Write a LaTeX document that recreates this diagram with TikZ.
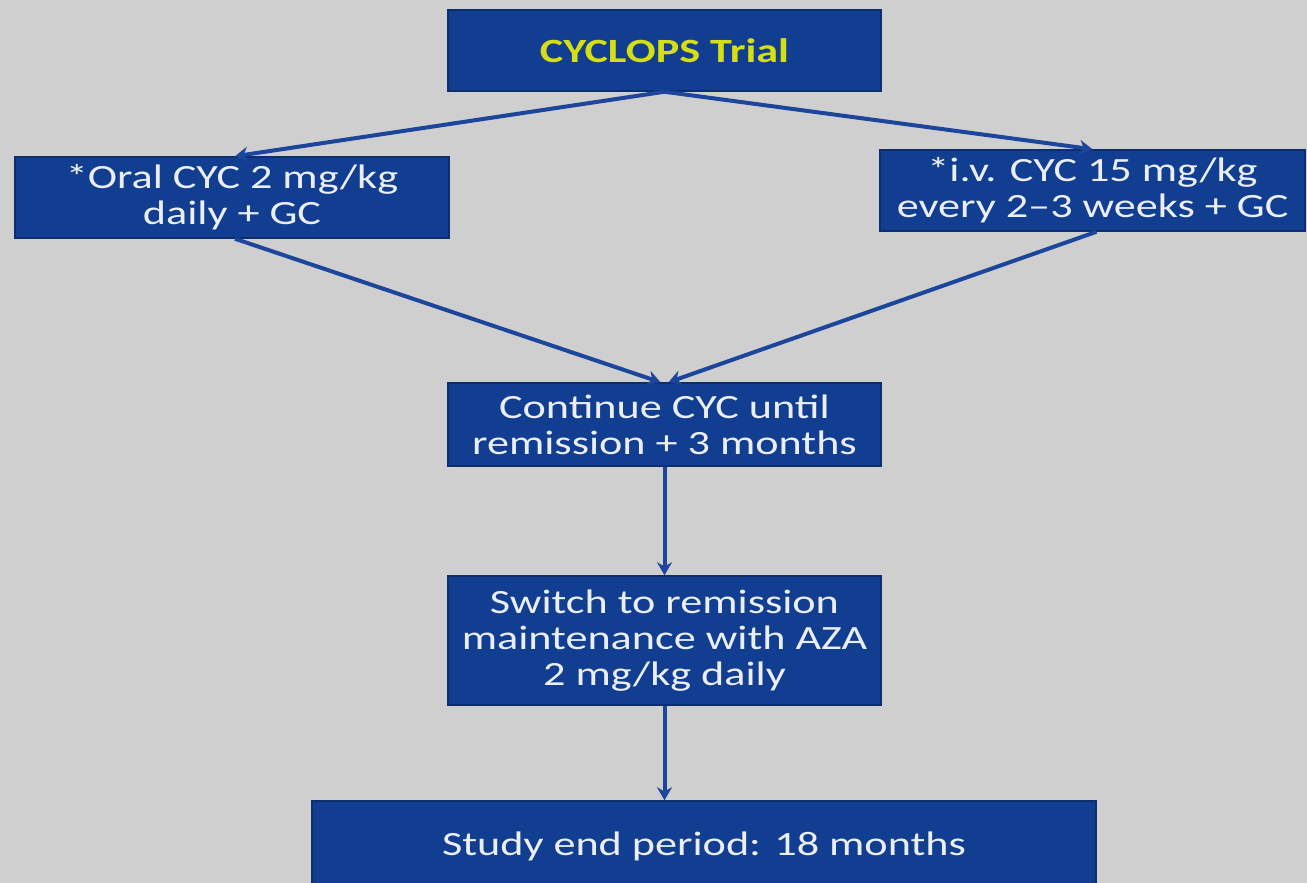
\documentclass[tikz,border=0pt]{standalone}
\usepackage{fontspec}
\setmainfont{Carlito}[FakeStretch=1.3]
\usepackage{tikz}
\usetikzlibrary{arrows.meta, positioning}
\definecolor{bggray}{RGB}{207,207,207}
\definecolor{boxblue}{RGB}{18,62,145}
\definecolor{boxedge}{RGB}{12,45,110}
\definecolor{arrblue}{RGB}{28,70,155}
\definecolor{boxtext}{RGB}{236,238,246}
\definecolor{titleyellow}{RGB}{214,222,20}
\tikzset{
  box/.style = {rectangle, draw=boxedge, fill=boxblue, line width=1.5pt, minimum width=433pt, minimum height=81pt, align=center, text=boxtext, font=\fontsize{34}{36}\selectfont, inner sep=4pt},
  arr/.style = {-{Stealth[length=13pt, width=15pt]}, draw=arrblue, line width=4pt}
}
\begin{document}
\begin{tikzpicture}[x=1pt, y=-1pt]

% background and frame
\fill[bggray] (0,0) rectangle (1307,883);
\useasboundingbox (0,0) rectangle (1307,883);

% Row 1
\node[box, text=titleyellow, font=\fontsize{34}{36}\selectfont\bfseries] (trial) at (664.5,50.5) {CYCLOPS Trial};

% Row 2 (two arms)
\node[box, minimum width=434pt] (oral) at (232,197.5) {*Oral CYC 2 mg/kg\\daily + GC};
\node[box, minimum width=425pt] (iv) at (1092.5,190.5) {*i.v. CYC 15 mg/kg\\every 2--3 weeks + GC};

% Row 3
\node[box, minimum height=83pt] (cont) at (664.5,424.5) {Continue CYC until\\remission + 3 months};

% Row 4
\node[box, minimum height=129pt] (switch) at (664.5,640.5) {Switch to remission\\maintenance with AZA\\2 mg/kg daily};

% Row 5
\node[box, minimum width=784pt, minimum height=90pt] (studyend) at (704,846) {Study end period: 18 months};

% ----- ARROWS -----
\draw[arr] (trial.south) -- ([xshift=3pt]oral.north);
\draw[arr] (trial.south) -- (iv.north);
\draw[arr] ([xshift=3pt]oral.south) -- ([xshift=-4pt]cont.north);
\draw[arr] ([xshift=4pt]iv.south) -- ([xshift=4pt]cont.north);
\draw[arr] (cont.south) -- (switch.north);
\draw[arr] (switch.south) -- (switch.south |- studyend.north);

\end{tikzpicture}
\end{document}
